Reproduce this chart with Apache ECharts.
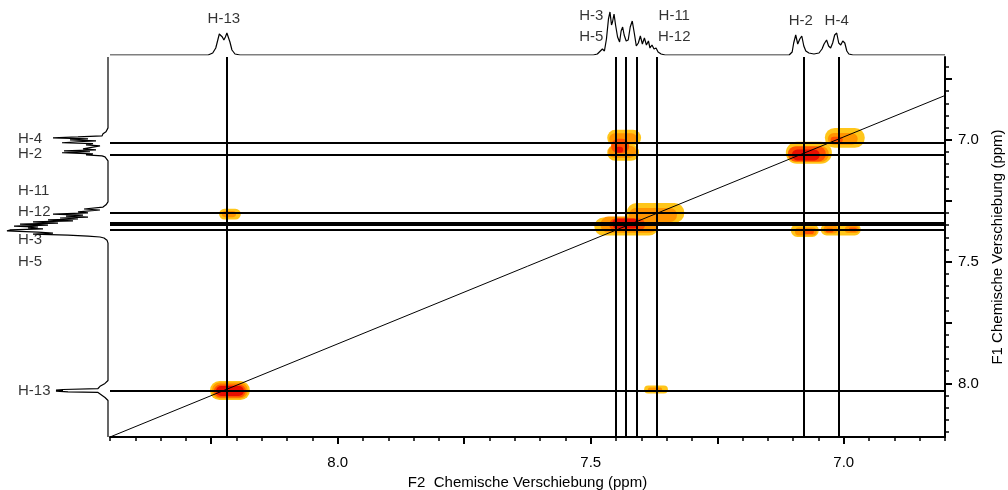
<!DOCTYPE html>
<html>
<head>
<meta charset="utf-8">
<title>COSY</title>
<script src="https://cdn.jsdelivr.net/npm/echarts@6/dist/echarts.min.js"></script>
<style>
    html, body { margin: 0; padding: 0; background: #fff; }
    #chart { width: 1008px; height: 490px; }
</style>
</head>
<body>
<div id="chart"></div>
<script>
// axis ranges (ppm)
var f2Range = [6.80, 8.45];
var f1Range = [6.66, 8.22];
var tickLabels = [7.0, 7.5, 8.0];
var f2MajorTicks = [7.0, 7.25, 7.5, 7.75, 8.0, 8.25];
var f1MajorTicks = [6.75, 7.0, 7.25, 7.5, 7.75, 8.0];

// cross lines through the signals
var f2Lines = [8.225, 7.450, 7.430, 7.410, 7.371, 7.083, 7.014];
var f1Lines = [7.006, 7.058, 7.302, 7.340, 7.354, 7.370, 8.025];

// diagonal [f2, f1]
var diagonal = [[8.45, 8.220], [6.80, 6.818]];

// contour levels: [f2, f1, widthF2, widthF1] (ppm)
var levelYellow = [
    [8.213, 8.029, 0.079, 0.078], [8.213, 7.305, 0.043, 0.045], [7.371, 8.025, 0.047, 0.033],
    [7.434, 6.992, 0.067, 0.066], [7.436, 7.053, 0.063, 0.066],
    [7.372, 7.300, 0.114, 0.082], [7.430, 7.356, 0.126, 0.074],
    [6.998, 6.992, 0.079, 0.082], [7.069, 7.053, 0.091, 0.091],
    [7.077, 7.372, 0.055, 0.053], [7.006, 7.368, 0.079, 0.049]
];
var levelOrange = [
    [8.213, 8.029, 0.071, 0.066], [8.215, 7.305, 0.028, 0.025], [7.373, 8.025, 0.028, 0.016],
    [7.436, 6.996, 0.055, 0.045], [7.438, 7.049, 0.055, 0.049],
    [7.377, 7.309, 0.095, 0.058], [7.424, 7.348, 0.114, 0.066],
    [7.002, 6.996, 0.059, 0.049], [7.069, 7.058, 0.079, 0.066],
    [7.075, 7.376, 0.043, 0.033], [7.026, 7.368, 0.028, 0.033], [6.984, 7.368, 0.028, 0.029]
];
var levelDeep = [
    [8.213, 8.031, 0.063, 0.053], [7.442, 7.025, 0.036, 0.058], [7.428, 7.348, 0.071, 0.049],
    [7.073, 7.058, 0.075, 0.062], [7.014, 7.000, 0.024, 0.025],
    [7.069, 7.376, 0.020, 0.021], [7.028, 7.372, 0.016, 0.016], [6.982, 7.368, 0.016, 0.016]
];
var levelRed = [
    [8.213, 8.031, 0.055, 0.041], [7.444, 7.041, 0.016, 0.025], [7.432, 7.344, 0.051, 0.041],
    [7.075, 7.062, 0.055, 0.045]
];

// 1D projection on top: [f2 ppm, intensity]
var topTrace = [
    [8.450, 0], [8.256, 0], [8.247, 2], [8.241, 7], [8.237, 15], [8.234, 21], [8.231, 22], [8.228, 18],
    [8.225, 15], [8.222, 18], [8.219, 22], [8.216, 21], [8.213, 13], [8.209, 5], [8.203, 1], [8.193, 0],
    [7.495, 0], [7.487, 1], [7.481, 4], [7.477, 6], [7.473, 4], [7.469, 16], [7.465, 36], [7.462, 43],
    [7.459, 30], [7.457, 33], [7.454, 41], [7.451, 30], [7.447, 18], [7.443, 13], [7.440, 24], [7.437, 28],
    [7.434, 20], [7.430, 14], [7.426, 15], [7.422, 28], [7.418, 34], [7.414, 22], [7.410, 9], [7.406, 12],
    [7.402, 19], [7.398, 11], [7.394, 17], [7.390, 10], [7.386, 14], [7.383, 7], [7.379, 10], [7.375, 6],
    [7.371, 7], [7.367, 3], [7.361, 1], [7.353, 0],
    [7.108, 0], [7.102, 3], [7.099, 12], [7.095, 20], [7.091, 11], [7.087, 16], [7.083, 19], [7.079, 9],
    [7.075, 4], [7.069, 2], [7.059, 1], [7.049, 2], [7.043, 6], [7.039, 11], [7.034, 15], [7.030, 9],
    [7.026, 7], [7.022, 12], [7.018, 20], [7.014, 22], [7.010, 12], [7.006, 10], [7.002, 14], [6.998, 12],
    [6.994, 4], [6.990, 1], [6.982, 0], [6.800, 0]
];

// 1D projection on the left: [intensity, f1 ppm]
var leftTrace = [
    [0, 6.660], [0, 6.951], [2, 6.967], [5, 6.975], [6, 6.984], [30, 6.988], [55, 6.992], [20, 6.996],
    [38, 7.000], [12, 7.004], [30, 7.008], [46, 7.012], [15, 7.016], [22, 7.021], [8, 7.025], [6, 7.029],
    [8, 7.033], [25, 7.037], [12, 7.041], [44, 7.045], [18, 7.049], [46, 7.053], [15, 7.058], [22, 7.062],
    [6, 7.066], [3, 7.070], [1, 7.078], [0, 7.086],
    [0, 7.255], [2, 7.267], [5, 7.276], [24, 7.284], [8, 7.288], [30, 7.296], [20, 7.300], [55, 7.305],
    [25, 7.309], [42, 7.313], [20, 7.317], [48, 7.321], [30, 7.325], [60, 7.329], [35, 7.333], [75, 7.337],
    [50, 7.342], [88, 7.346], [60, 7.350], [94, 7.354], [70, 7.358], [80, 7.362], [65, 7.366], [98, 7.370],
    [101, 7.374], [70, 7.379], [55, 7.383], [75, 7.387], [40, 7.391], [20, 7.395], [8, 7.399], [4, 7.403],
    [1, 7.412], [0, 7.424],
    [0, 7.988], [3, 8.000], [8, 8.012], [10, 8.021], [45, 8.025], [52, 8.027], [45, 8.029], [52, 8.032],
    [40, 8.035], [10, 8.037], [8, 8.045], [3, 8.058], [0, 8.070], [0, 8.220]
];

// signal names
var topNames = [
    [8.225, 36, 'H-13'], [7.499, 39, 'H-3'], [7.499, 18, 'H-5'],
    [7.335, 39, 'H-11'], [7.335, 18, 'H-12'], [7.085, 34, 'H-2'], [7.014, 34, 'H-4']
];
var leftNames = [
    [90, 6.996, 'H-4'], [90, 7.058, 'H-2'], [90, 7.210, 'H-11'], [90, 7.296, 'H-12'],
    [90, 7.412, 'H-3'], [90, 7.502, 'H-5'], [90, 8.029, 'H-13']
];

var FONT = 'Liberation Sans, Arial, sans-serif';

function stepValues(a, b, s) {
    var out = [];
    for (var v = a; v <= b + 1e-9; v += s) out.push(+v.toFixed(2));
    return out;
}

function blobSeries(data, color, z) {
    return {
        type: 'custom', xAxisIndex: 0, yAxisIndex: 0, z: z, silent: true,
        data: data,
        renderItem: function (params, api) {
            var c = api.coord([api.value(0), api.value(1)]);
            var s = api.size([api.value(2), api.value(3)]);
            var w = Math.abs(s[0]), h = Math.abs(s[1]);
            return {
                type: 'rect',
                shape: { x: c[0] - w / 2, y: c[1] - h / 2, width: w, height: h, r: h / 2 },
                style: { fill: color }
            };
        }
    };
}

var chart = echarts.init(document.getElementById('chart'));
var option = {
    animation: false,
    backgroundColor: '#fff',
    textStyle: { fontFamily: FONT },
    grid: [
        { left: 110, right: 63, top: 57, bottom: 53, containLabel: false, outerBoundsMode: 'none' },
        { left: 110, right: 63, top: 5, height: 50, containLabel: false, outerBoundsMode: 'none' },
        { left: 0, width: 108, top: 57, bottom: 53, containLabel: false, outerBoundsMode: 'none' }
    ],
    xAxis: [{
        type: 'value', gridIndex: 0, position: 'bottom', inverse: true,
        min: f2Range[0], max: f2Range[1],
        name: 'F2  Chemische Verschiebung (ppm)', nameLocation: 'middle', nameGap: 36,
        nameTextStyle: { color: '#000', fontSize: 15, fontFamily: FONT },
        axisLine: { show: true, lineStyle: { color: '#000', width: 2 } },
        axisTick: { show: true, inside: false, length: 7, customValues: f2MajorTicks, lineStyle: { color: '#000', width: 2 } },
        axisLabel: { show: true, margin: 18, customValues: tickLabels, color: '#000', fontSize: 15, fontFamily: FONT,
            formatter: function (v) { return v.toFixed(1); } },
        splitLine: { show: false }
    }, {
        type: 'value', gridIndex: 0, position: 'bottom', inverse: true,
        min: f2Range[0], max: f2Range[1],
        axisLine: { show: false },
        axisTick: { show: true, length: 4, customValues: stepValues(6.80, 8.45, 0.05), lineStyle: { color: '#000', width: 1.5 } },
        axisLabel: { show: false },
        splitLine: { show: false }
    }, {
        type: 'value', gridIndex: 1, inverse: true, show: false,
        min: f2Range[0], max: f2Range[1]
    }, {
        type: 'value', gridIndex: 2, inverse: true, show: false,
        min: 0, max: 108
    }],
    yAxis: [{
        type: 'value', gridIndex: 0, position: 'right', inverse: true,
        min: f1Range[0], max: f1Range[1],
        name: 'F1 Chemische Verschiebung (ppm)', nameLocation: 'middle', nameGap: 45,
        nameTextStyle: { color: '#000', fontSize: 15, fontFamily: FONT },
        axisLine: { show: true, lineStyle: { color: '#000', width: 2 } },
        axisTick: { show: true, inside: false, length: 7, customValues: f1MajorTicks, lineStyle: { color: '#000', width: 2 } },
        axisLabel: { show: true, margin: 13, customValues: tickLabels, color: '#000', fontSize: 15, fontFamily: FONT,
            formatter: function (v) { return v.toFixed(1); } },
        splitLine: { show: false }
    }, {
        type: 'value', gridIndex: 0, position: 'right', inverse: true,
        min: f1Range[0], max: f1Range[1],
        axisLine: { show: false },
        axisTick: { show: true, length: 4, customValues: stepValues(6.70, 8.20, 0.05), lineStyle: { color: '#000', width: 1.5 } },
        axisLabel: { show: false },
        splitLine: { show: false }
    }, {
        type: 'value', gridIndex: 1, show: false, min: 0, max: 50
    }, {
        type: 'value', gridIndex: 2, inverse: true, show: false,
        min: f1Range[0], max: f1Range[1]
    }],
    series: [
        blobSeries(levelYellow, '#ffc61a', 1),
        blobSeries(levelOrange, '#ff9500', 2),
        blobSeries(levelDeep, '#ff5200', 3),
        blobSeries(levelRed, '#e80f00', 4),
        {
            type: 'line', xAxisIndex: 0, yAxisIndex: 0, z: 10, silent: true,
            data: diagonal, symbol: 'none',
            lineStyle: { color: '#000', width: 1 },
            markLine: {
                silent: true, symbol: ['none', 'none'], animation: false,
                label: { show: false },
                lineStyle: { color: '#000', width: 2, type: 'solid' },
                emphasis: { disabled: true },
                data: f2Lines.map(function (v) { return { xAxis: v }; })
                    .concat(f1Lines.map(function (v) { return { yAxis: v }; }))
            }
        },
        {
            type: 'line', xAxisIndex: 2, yAxisIndex: 2, silent: true,
            data: topTrace, symbol: 'none',
            lineStyle: { color: '#000', width: 1.2 }
        },
        {
            type: 'line', xAxisIndex: 3, yAxisIndex: 3, silent: true,
            data: leftTrace, symbol: 'none',
            lineStyle: { color: '#000', width: 1.2 }
        },
        {
            type: 'scatter', xAxisIndex: 2, yAxisIndex: 2, silent: true,
            data: topNames, symbolSize: 0,
            label: { show: true, position: 'inside', color: '#000', fontSize: 15, fontFamily: FONT,
                formatter: function (p) { return p.data[2]; } }
        },
        {
            type: 'scatter', xAxisIndex: 3, yAxisIndex: 3, silent: true,
            data: leftNames, symbolSize: 0,
            label: { show: true, position: 'right', distance: 0, color: '#000', fontSize: 15, fontFamily: FONT,
                formatter: function (p) { return p.data[2]; } }
        }
    ]
};
chart.setOption(option);
</script>
</body>
</html>
